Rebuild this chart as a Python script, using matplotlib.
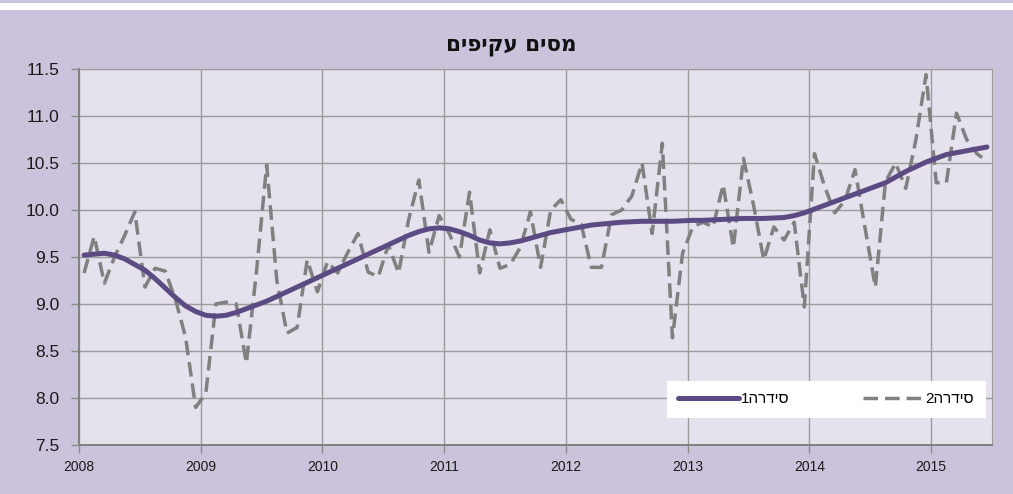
import numpy as np
import matplotlib
matplotlib.use("Agg")
import matplotlib.pyplot as plt
from matplotlib.patches import Rectangle

plt.rcParams['font.family'] = ['Liberation Sans', 'DejaVu Sans']

# monthly data Jan 2008 .. Jun 2015
start_year = 2008
n_months = 90

series2 = [9.33, 9.72, 9.22, 9.50, 9.73, 9.98, 9.18, 9.38, 9.35, 9.05,
           8.65, 7.90, 8.05, 9.00, 9.02, 9.00, 8.37, 9.35, 10.48, 9.25,
           8.69, 8.75, 9.47, 9.13, 9.45, 9.33, 9.55, 9.75, 9.34, 9.29,
           9.63, 9.33, 9.90, 10.32, 9.55, 9.94, 9.75, 9.50, 10.19, 9.33,
           9.79, 9.38, 9.42, 9.60, 9.98, 9.39, 10.00, 10.11, 9.90, 9.85,
           9.39, 9.39, 9.95, 10.00, 10.15, 10.50, 9.75, 10.71, 8.64, 9.54,
           9.82, 9.87, 9.82, 10.27, 9.60, 10.55, 10.05, 9.47, 9.82, 9.68,
           9.87, 8.97, 10.60, 10.25, 9.97, 10.10, 10.43, 9.80, 9.18, 10.30,
           10.50, 10.23, 10.75, 11.44, 10.29, 10.29, 11.03, 10.75, 10.60, 10.52]

series1 = [9.52, 9.53, 9.54, 9.52, 9.48, 9.42, 9.36, 9.27, 9.17, 9.07,
           8.98, 8.92, 8.88, 8.87, 8.88, 8.91, 8.95, 8.99, 9.03, 9.08,
           9.13, 9.18, 9.23, 9.28, 9.33, 9.38, 9.43, 9.48, 9.53, 9.58,
           9.63, 9.68, 9.73, 9.77, 9.80, 9.81, 9.80, 9.77, 9.73, 9.68,
           9.65, 9.64, 9.65, 9.67, 9.70, 9.73, 9.76, 9.78, 9.80, 9.82,
           9.84, 9.85, 9.86, 9.87, 9.875, 9.88, 9.88, 9.88, 9.88, 9.885,
           9.89, 9.89, 9.895, 9.90, 9.905, 9.91, 9.91, 9.91, 9.915, 9.92,
           9.94, 9.97, 10.01, 10.05, 10.09, 10.13, 10.17, 10.21, 10.25, 10.29,
           10.35, 10.41, 10.46, 10.51, 10.55, 10.59, 10.61, 10.63, 10.65, 10.67]

years = list(range(2008, 2016))
y_ticks = [7.5, 8.0, 8.5, 9.0, 9.5, 10.0, 10.5, 11.0, 11.5]

title = "מסים עקיפים"
label1 = "סידרה1"
label2 = "סידרה2"


def visual(s):
    # matplotlib has no bidi: put the hebrew run in visual order, digits stay left
    digits = ''.join(c for c in s if c.isdigit())
    heb = ''.join(c for c in s if not c.isdigit())
    return digits + heb[::-1]


x = start_year + (np.arange(n_months) + 0.5) / 12.0

lav = '#CBC3DB'
fig = plt.figure(figsize=(10.13, 4.94), dpi=100, facecolor=lav)
fig.patches.append(Rectangle((0, 1 - 10 / 494), 1, 7 / 494, transform=fig.transFigure,
                             facecolor='white', edgecolor='none'))

ax = fig.add_axes([79 / 1013, 1 - 445 / 494, 913 / 1013, 376 / 494])
ax.set_facecolor('#E5E1ED')

ax.plot(x, series2, color='#808080', lw=2.5, dashes=(4.2, 2.0), label=visual(label2), zorder=3)
ax.plot(x, series1, color='#5C4A82', lw=3.6, solid_capstyle='round', label=visual(label1), zorder=4)

ax.set_xlim(2008, 2015.5)
ax.set_ylim(7.5, 11.5)
ax.set_xticks(years)
ax.set_xticklabels([str(y) for y in years], fontsize=10)
ax.set_yticks(y_ticks)
ax.set_yticklabels(['%.1f' % v for v in y_ticks], fontsize=12.5)
ax.grid(True, color='#9C9C9C', lw=1.0)
ax.set_axisbelow(True)
ax.tick_params(axis='both', length=6, color='#8C8C8C', width=1, colors='#8C8C8C')
ax.tick_params(axis='x', pad=5, labelcolor='#1A1A1A')
ax.tick_params(axis='y', pad=8, labelcolor='#1A1A1A')
for side in ['top', 'right']:
    ax.spines[side].set_color('#9C9C9C')
for side in ['left', 'bottom']:
    ax.spines[side].set_color('#808080')
    ax.spines[side].set_linewidth(1.4)

h, l = ax.get_legend_handles_labels()
leg = ax.legend(h[::-1], l[::-1], loc='lower right', bbox_to_anchor=(0.993, 0.072),
                ncol=2, frameon=True, fancybox=False, fontsize=11, handlelength=4.0,
                handletextpad=0.1, columnspacing=4.8, borderpad=0.75, borderaxespad=0)
leg.get_frame().set_facecolor('white')
leg.get_frame().set_edgecolor('none')
leg.get_frame().set_alpha(1)

fig.text(0.505, 1 - 46 / 494, visual(title), ha='center', va='center',
         fontsize=15.5, fontweight='heavy', family='DejaVu Sans', color='#111111')

fig.savefig('out.png', dpi=100, facecolor=lav)
